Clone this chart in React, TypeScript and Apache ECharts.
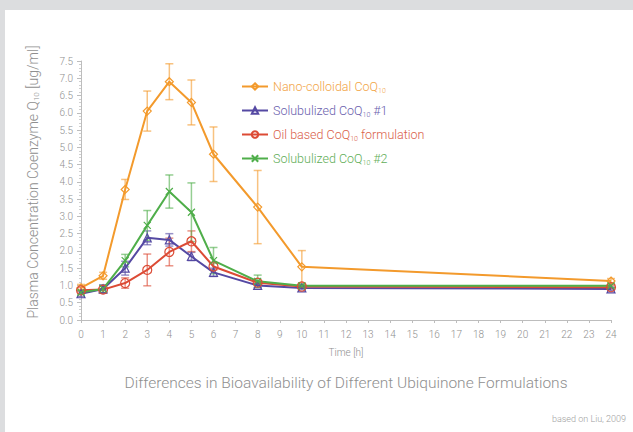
import React, { useEffect, useRef } from "react";
import * as echarts from "echarts";

const times = [0, 1, 2, 3, 4, 5, 6, 8, 10, 24];
const nano = [0.93, 1.28, 3.78, 6.05, 6.9, 6.3, 4.8, 3.27, 1.54, 1.13];
const nanoErr = [0.1, 0.1, 0.29, 0.58, 0.52, 0.65, 0.79, 1.06, 0.47, 0.07];
const sol1 = [0.76, 0.9, 1.5, 2.38, 2.32, 1.84, 1.38, 1.0, 0.93, 0.9];
const sol1Err = [0.08, 0.12, 0.2, 0.2, 0.18, 0.12, 0.12, 0.06, 0.05, 0.05];
const oil = [0.86, 0.88, 1.07, 1.45, 1.97, 2.28, 1.55, 1.08, 0.97, 0.95];
const oilErr = [0.08, 0.1, 0.15, 0.46, 0.4, 0.3, 0.1, 0.06, 0.05, 0.05];
const sol2 = [0.8, 0.9, 1.72, 2.74, 3.72, 3.12, 1.72, 1.12, 0.99, 0.99];
const sol2Err = [0.06, 0.1, 0.18, 0.43, 0.48, 0.85, 0.38, 0.18, 0.05, 0.05];

const names = [
  "Nano-colloidal CoQ10",
  "Solubulized CoQ10 #1",
  "Oil based CoQ10 formulation",
  "Solubulized CoQ10 #2",
];
const colors = ["#f39a2c", "#5549a3", "#dc4b35", "#4fae4a"];
const textColors = ["#f2a446", "#6a60ad", "#d9604a", "#5fae58"];
const FONT = "Roboto, 'DejaVu Sans', sans-serif";
const GRAY = "#8f8f8f";

export default function App() {
  const ref = useRef<HTMLDivElement>(null);
  useEffect(() => {
    if (!ref.current) return;
    const chart = echarts.init(ref.current, null, { renderer: "svg" });
    const vals = [nano, sol1, oil, sol2];
    const errs = [nanoErr, sol1Err, oilErr, sol2Err];
    const symbols = [
      "diamond",
      "triangle",
      "circle",
      "path://M0,0L10,10M10,0L0,10",
    ];
    const sizes = [8, 8, 9, 7];

    const lineSeries = names.map((n, i) => ({
      name: n,
      type: "line",
      data: times.map((t, j) => [t, vals[i][j]]),
      symbol: symbols[i],
      symbolSize: sizes[i],
      showSymbol: true,
      lineStyle: { color: colors[i], width: 2 },
      itemStyle: {
        color: "rgba(255,255,255,0)",
        borderColor: colors[i],
        borderWidth: 1.2,
      },
      z: 3,
    }));

    const errSeries = names.map((n, i) => ({
      name: n + " err",
      type: "custom",
      z: 2,
      silent: true,
      data: times.map((t, j) => [t, vals[i][j] - errs[i][j], vals[i][j] + errs[i][j]]),
      renderItem: (params: any, api: any) => {
        const x = api.value(0);
        const lo = api.coord([x, api.value(1)]);
        const hi = api.coord([x, api.value(2)]);
        const w = 4;
        const style = { stroke: colors[i], lineWidth: 1.5, opacity: 0.6 };
        return {
          type: "group",
          children: [
            { type: "line", shape: { x1: lo[0], y1: lo[1], x2: hi[0], y2: hi[1] }, style },
            { type: "line", shape: { x1: lo[0] - w, y1: lo[1], x2: lo[0] + w, y2: lo[1] }, style },
            { type: "line", shape: { x1: hi[0] - w, y1: hi[1], x2: hi[0] + w, y2: hi[1] }, style },
          ],
        };
      },
    }));

    const keys = ["a", "b", "c", "d"];
    const rich: any = {};
    keys.forEach((k, i) => {
      rich[k] = { color: textColors[i], fontSize: 12.5, fontFamily: FONT, fontWeight: 300 };
      rich[k + "s"] = {
        color: textColors[i],
        fontSize: 7,
        fontFamily: FONT,
        fontWeight: 300,
        padding: [8, 0, 0, 0],
      };
    });

    const legendFmt = (name: string) => {
      const i = names.indexOf(name);
      const k = keys[i];
      const parts = name.split("CoQ10");
      return `{${k}|${parts[0]}CoQ}{${k}s|10}{${k}|${parts[1]}}`;
    };

    chart.setOption({
      animation: false,
      backgroundColor: "#ffffff",
      grid: { left: 81, right: 22, top: 61, bottom: 112 },
      legend: {
        data: names,
        orient: "vertical",
        left: 236,
        top: 75,
        itemWidth: 26,
        itemHeight: 8,
        itemGap: 10,
        formatter: legendFmt,
        textStyle: { rich, fontFamily: FONT },
      },
      xAxis: {
        type: "value",
        min: 0,
        max: 24,
        interval: 1,
        name: "Time [h]",
        nameLocation: "middle",
        nameGap: 27,
        nameTextStyle: { color: GRAY, fontSize: 10, fontFamily: FONT, fontWeight: 300 },
        axisLine: { lineStyle: { color: "#bdbdbd", width: 1 } },
        axisTick: { length: 3, lineStyle: { color: "#bdbdbd" } },
        axisLabel: { color: GRAY, fontSize: 10, fontFamily: FONT, fontWeight: 300, margin: 9 },
        splitLine: { show: false },
      },
      yAxis: {
        type: "value",
        min: 0,
        max: 7.5,
        interval: 0.5,
        axisLine: { show: true, lineStyle: { color: "#bdbdbd", width: 1 } },
        axisTick: { show: true, length: 4, lineStyle: { color: "#bdbdbd" } },
        minorTick: { show: true, splitNumber: 5, length: 2, lineStyle: { color: "#cfcfcf" } },
        axisLabel: {
          color: GRAY,
          fontSize: 10,
          fontFamily: FONT,
          fontWeight: 300,
          margin: 8,
          formatter: (v: number) => v.toFixed(1),
        },
        splitLine: { show: false },
      },
      graphic: [
        { type: "rect", shape: { x: 0, y: 0, width: 633, height: 10 }, style: { fill: "#dcdddf" }, z: -10 },
        { type: "rect", shape: { x: 0, y: 0, width: 5, height: 432 }, style: { fill: "#dcdddf" }, z: -10 },
        {
          type: "text",
          x: 33,
          y: 182,
          rotation: Math.PI / 2,
          style: {
            text: "{m|Plasma Concentration Coenzyme Q}{s|10}{m| [ug/ml]}",
            align: "center",
            verticalAlign: "middle",
            rich: {
              m: { fontSize: 14, fill: GRAY, fontFamily: FONT, fontWeight: 300 },
              s: { fontSize: 8, fill: GRAY, fontFamily: FONT, fontWeight: 300, padding: [7, 0, 0, 0] },
            },
          },
        },
        {
          type: "text",
          x: 346,
          y: 383,
          style: {
            text: "Differences in Bioavailability of Different Ubiquinone Formulations",
            align: "center",
            verticalAlign: "middle",
            fontSize: 15.5,
            fontWeight: 300,
            fontFamily: FONT,
            fill: GRAY,
          },
        },
        {
          type: "text",
          x: 626,
          y: 419,
          style: {
            text: "based on Liu, 2009",
            align: "right",
            verticalAlign: "middle",
            fontSize: 9,
            fontWeight: 300,
            fontFamily: FONT,
            fill: "#a0a0a0",
          },
        },
      ],
      series: [...errSeries, ...lineSeries],
    });
    return () => chart.dispose();
  }, []);
  return (
    <div
      ref={ref}
      style={{ position: "fixed", left: 0, top: 0, width: 633, height: 432 }}
    />
  );
}
